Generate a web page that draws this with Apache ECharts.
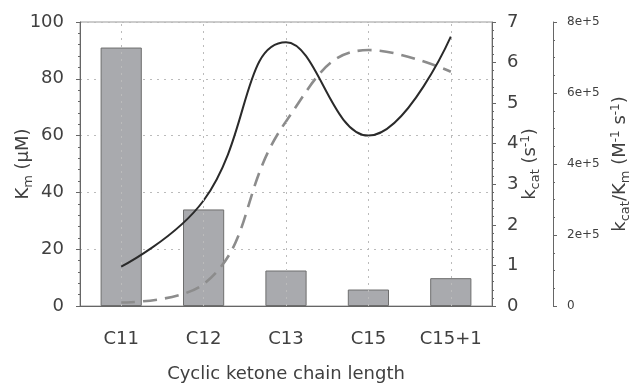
<!DOCTYPE html>
<html>
<head>
<meta charset="utf-8">
<script src="https://cdn.jsdelivr.net/npm/echarts@6/dist/echarts.min.js"></script>
<style>
html,body{margin:0;padding:0;background:#fff;}
#c{width:633px;height:384px;}
</style>
</head>
<body>
<div id="c"></div>
<script>
var categories = ['C11', 'C12', 'C13', 'C15', 'C15+1'];
var kmValues = [91, 34, 12.5, 5.8, 9.8];
var kcatValues = [0.97, 2.6, 6.5, 4.2, 6.64];
var kcatKmValues = [10000, 62000, 520000, 721000, 660000];
var kmTicks = [0, 20, 40, 60, 80, 100];
var kcatTicks = [0, 1, 2, 3, 4, 5, 6, 7];
var effTicks = [0, 200000, 400000, 600000, 800000];

var textColor = '#404040';
var axisColor = '#666';
var font = 'DejaVu Sans, Verdana, sans-serif';

var nameRich = {
  b: {fontSize: 18, color: textColor, fontFamily: font},
  s: {fontSize: 13, color: textColor, fontFamily: font, padding: [10, 0, 0, 0]},
  p: {fontSize: 12, color: textColor, fontFamily: font, padding: [0, 0, 10, 0]}
};

var chart = echarts.init(document.getElementById('c'));
chart.setOption({
  animation: false,
  backgroundColor: '#fff',
  grid: {left: 80, right: 141, top: 22, bottom: 78, show: true, borderColor: '#999', borderWidth: 1,
    containLabel: false, outerBoundsMode: 'none'},
  xAxis: {
    type: 'category',
    data: categories,
    boundaryGap: true,
    axisLine: {lineStyle: {color: axisColor, width: 1}},
    axisTick: {alignWithLabel: true, length: 4, lineStyle: {color: axisColor}},
    axisLabel: {color: textColor, fontSize: 18, fontFamily: font, margin: 24, interval: 0, hideOverlap: false},
    name: 'Cyclic ketone chain length',
    nameLocation: 'middle',
    nameGap: 59,
    nameMoveOverlap: false,
    nameTextStyle: {color: textColor, fontSize: 18, fontFamily: font}
  },
  yAxis: [{
    type: 'value',
    min: kmTicks[0], max: kmTicks[kmTicks.length - 1], interval: 20,
    position: 'left',
    axisLine: {show: true, lineStyle: {color: axisColor}},
    axisTick: {show: true, length: 4, lineStyle: {color: axisColor}},
    minorTick: {show: true, splitNumber: 5, length: 2, lineStyle: {color: axisColor}},
    axisLabel: {color: textColor, fontSize: 18, fontFamily: font, margin: 16},
    splitLine: {show: true, lineStyle: {color: '#bbb', type: [2, 5], width: 1}},
    name: '{b|K}{s|m}{b| (µM)}',
    nameLocation: 'middle',
    nameRotate: 90,
    nameGap: 45,
    nameMoveOverlap: false,
    nameTextStyle: {rich: nameRich}
  }, {
    type: 'value',
    min: kcatTicks[0], max: kcatTicks[kcatTicks.length - 1], interval: 1,
    position: 'right',
    axisLine: {show: true, lineStyle: {color: axisColor}},
    axisTick: {show: true, length: 4, lineStyle: {color: axisColor}},
    minorTick: {show: true, splitNumber: 5, length: 2, lineStyle: {color: axisColor}},
    axisLabel: {color: textColor, fontSize: 18, fontFamily: font, margin: 15},
    splitLine: {show: false},
    name: '{b|k}{s|cat}{b| (s}{p|-1}{b|)}',
    nameLocation: 'middle',
    nameRotate: 90,
    nameGap: 27,
    nameMoveOverlap: false,
    nameTextStyle: {rich: nameRich}
  }, {
    type: 'value',
    min: effTicks[0], max: effTicks[effTicks.length - 1], interval: 200000,
    position: 'right',
    offset: 61,
    axisLine: {show: true, lineStyle: {color: axisColor}},
    axisTick: {show: true, length: 4, lineStyle: {color: axisColor}},
    minorTick: {show: true, splitNumber: 4, length: 2, lineStyle: {color: axisColor}},
    axisLabel: {color: textColor, fontSize: 12, fontFamily: font, margin: 14,
      formatter: function (v) { return v === 0 ? '0' : (v / 100000) + 'e+5'; }},
    splitLine: {show: false},
    name: '{b|k}{s|cat}{b|/K}{s|m}{b| (M}{p|-1}{b| s}{p|-1}{b|)}',
    nameLocation: 'middle',
    nameRotate: 90,
    nameGap: 56,
    nameMoveOverlap: false,
    nameTextStyle: {rich: nameRich}
  }],
  series: [{
    type: 'bar',
    data: kmValues,
    yAxisIndex: 0,
    barWidth: '50%',
    itemStyle: {color: '#a9aaae', borderColor: '#6e6e6e', borderWidth: 1},
    markLine: {
      silent: true,
      symbol: 'none',
      label: {show: false},
      lineStyle: {color: '#bbb', type: [2, 5], width: 1},
      data: categories.map(function (c) { return {xAxis: c}; })
    },
    z: 2
  }, {
    type: 'line',
    data: kcatValues,
    yAxisIndex: 1,
    smooth: 0.45,
    symbol: 'none',
    lineStyle: {color: '#2a2a2a', width: 2},
    z: 4
  }, {
    type: 'line',
    data: kcatKmValues,
    yAxisIndex: 2,
    smooth: 0.45,
    symbol: 'none',
    lineStyle: {color: '#8c8c8c', width: 2.6, type: [14, 8]},
    z: 3
  }]
});
</script>
</body>
</html>
